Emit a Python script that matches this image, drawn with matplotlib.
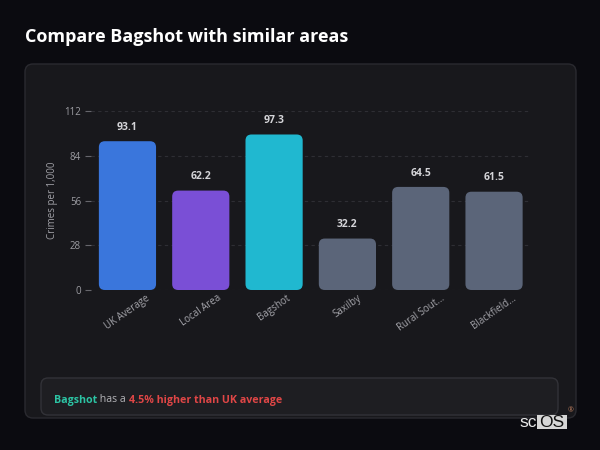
import matplotlib
matplotlib.use("Agg")
import matplotlib.pyplot as plt
from matplotlib.patches import FancyBboxPatch, Rectangle
from matplotlib.offsetbox import TextArea, HPacker, AnchoredOffsetbox

plt.rcParams['font.family'] = ['Open Sans', 'DejaVu Sans']

# ---- data ----
categories = ["UK Average", "Local Area", "Bagshot", "Saxilby", "Rural Sout...", "Blackfield..."]
values = [93.1, 62.2, 97.3, 32.2, 64.5, 61.5]
bar_colors = ["#3a76dc", "#7a4fd6", "#20b8d0", "#5b6579", "#5b6579", "#5b6579"]
y_ticks = [0, 28, 56, 84, 112]
title = "Compare Bagshot with similar areas"
y_label = "Crimes per 1,000"
summary_area = "Bagshot"
summary_mid = " has a "
summary_diff = "4.5% higher than UK average"

W, H = 600, 450
fig = plt.figure(figsize=(6, 4.5), dpi=100)
fig.patch.set_facecolor("#0b0b10")

# background decoration axes in pixel coordinates
bg = fig.add_axes([0, 0, 1, 1])
bg.set_xlim(0, W)
bg.set_ylim(H, 0)
bg.axis("off")
bg.add_patch(FancyBboxPatch((25, 64), 551, 354, boxstyle="round,pad=0,rounding_size=8",
                            fc="#18181c", ec="#2a2a30", lw=1))
bg.add_patch(FancyBboxPatch((41, 378), 517, 37, boxstyle="round,pad=0,rounding_size=7",
                            fc="#1e1e22", ec="#323238", lw=1))
bg.text(25, 37, title, color="#ffffff", fontsize=13, fontweight="bold", va="center", ha="left")

# summary line
ta1 = TextArea(summary_area, textprops=dict(color="#2cc4a4", fontsize=7.7, fontweight="bold"))
ta2 = TextArea(summary_mid, textprops=dict(color="#b4b4b8", fontsize=7.7))
ta3 = TextArea(summary_diff, textprops=dict(color="#e04646", fontsize=7.7, fontweight="bold"))
pk = HPacker(children=[ta1, ta2, ta3], align="baseline", pad=0, sep=0)
ab = AnchoredOffsetbox(loc="center left", child=pk, frameon=False, pad=0, borderpad=0,
                       bbox_to_anchor=(54 / W, 1 - 400 / H), bbox_transform=fig.transFigure)
bg.add_artist(ab)

# logo
bg.add_patch(Rectangle((537, 415), 30, 14, fc="#d6d6d6", ec="none"))
bg.text(537, 422.5, "sc", color="#e8e8e8", fontsize=12.5, va="center", ha="right",
        family=["Liberation Sans", "DejaVu Sans"])
bg.text(552, 422.5, "OS", color="#111111", fontsize=12.5, va="center", ha="center",
        family=["Liberation Sans", "DejaVu Sans"])
bg.text(571, 411, "®", color="#c08060", fontsize=5, va="center", ha="center")

# main chart axes
x0, x1 = 90.8, 530.7
yt, yb = 111, 290
ax = fig.add_axes([x0 / W, 1 - yb / H, (x1 - x0) / W, (yb - yt) / H])
ax.set_facecolor("none")
ax.set_xlim(-0.5, len(categories) - 0.5)
ax.set_ylim(0, 112)
for s in ax.spines.values():
    s.set_visible(False)

ax.set_yticks(y_ticks)
ax.set_yticklabels([str(t) for t in y_ticks])
ax.tick_params(axis="y", colors="#66666c", labelcolor="#9c9ca2", labelsize=7, length=4, width=0.8, pad=3)
ax.grid(axis="y", color="#2e2e34", linestyle=(0, (3, 3)), linewidth=0.8)
ax.set_axisbelow(True)

ax.set_xticks(range(len(categories)))
ax.set_xticklabels(categories, rotation=35, ha="center", va="top")
ax.tick_params(axis="x", length=0, labelcolor="#a4a4aa", labelsize=7, pad=2)

ax.set_ylabel(y_label, color="#a0a0a6", fontsize=7, labelpad=4.5)

# rounded bars through data coordinates
bar_w = 0.78
fig.canvas.draw()
px_per_x = ax.transData.transform((1, 0))[0] - ax.transData.transform((0, 0))[0]
px_per_y = ax.transData.transform((0, 1))[1] - ax.transData.transform((0, 0))[1]
r_px = 6
r_x = r_px / px_per_x
aspect = px_per_x / px_per_y
for i, (v, c) in enumerate(zip(values, bar_colors)):
    p = FancyBboxPatch((i - bar_w / 2, 0), bar_w, v,
                       boxstyle=f"round,pad=0,rounding_size={r_x}",
                       mutation_aspect=aspect, fc=c, ec="none", zorder=3)
    ax.add_patch(p)
    ax.annotate(f"{v:.1f}", (i, v), xytext=(0, 6), textcoords="offset points",
                ha="center", va="bottom", color="#d4d4d8", fontsize=7.5, fontweight="bold")

fig.savefig("out.png", dpi=100, facecolor=fig.get_facecolor())
